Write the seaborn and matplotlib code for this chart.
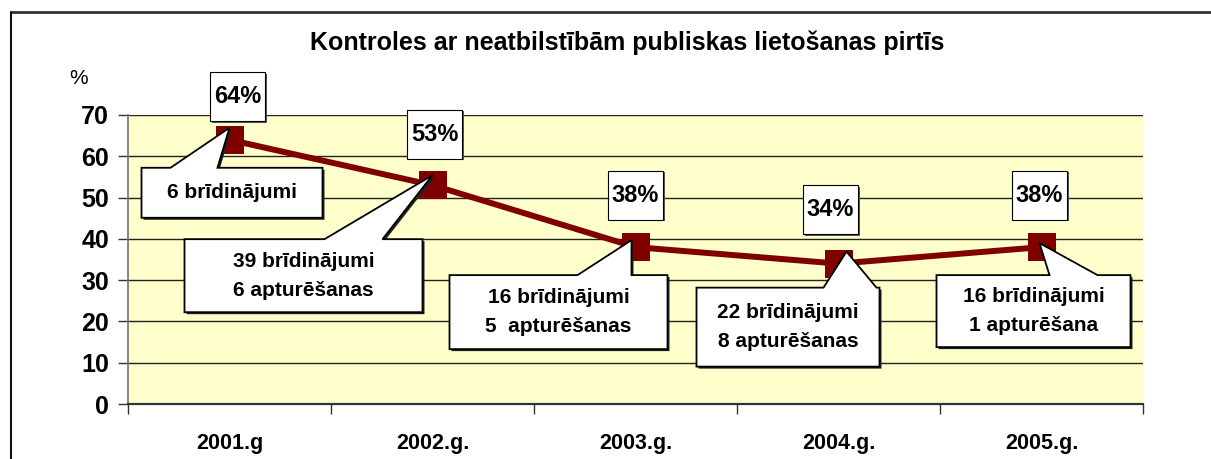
import numpy as np
import matplotlib
matplotlib.use("Agg")
import matplotlib.pyplot as plt
import matplotlib.transforms as mtransforms
from matplotlib.patches import Polygon, Rectangle
from matplotlib.lines import Line2D
import pandas as pd
import seaborn as sns

# data
years = ["2001.g", "2002.g.", "2003.g.", "2004.g.", "2005.g."]
share = [64, 53, 38, 34, 38]
pct_labels = ["64%", "53%", "38%", "34%", "38%"]
notes = [
    ["6 brīdinājumi"],
    ["39 brīdinājumi", "6 apturēšanas"],
    ["16 brīdinājumi", "5  apturēšanas"],
    ["22 brīdinājumi", "8 apturēšanas"],
    ["16 brīdinājumi", "1 apturēšana"],
]

# layout of the labels, pixel offsets from the marker (image y down)
# box: x0, x1, y0, y1 ; tip: dx, dy ; base: x0, x1 on the top edge
callouts = [
    dict(box=(-88, 93, 28, 78), tip=(0, -12), base=(-59, -12)),
    dict(box=(-248, -10, 54, 127), tip=(0, -10), base=(-108, -50)),
    dict(box=(-186, 32, 28, 102), tip=(-4, -7), base=(-58, -4)),
    dict(box=(-142, 41, 24, 103), tip=(8, -12), base=(-15, 38)),
    dict(box=(-105, 89, 28, 100), tip=(-2, -4), base=(8, 56)),
]
pct_offsets = [(8, -43), (2, -51), (0, -52), (-8, -54), (-2, -52)]

sns.set_theme(style="white")
plt.rcParams["font.family"] = ["Liberation Sans", "DejaVu Sans"]
plt.rcParams["text.color"] = "black"
plt.rcParams["xtick.labelcolor"] = "black"
plt.rcParams["ytick.labelcolor"] = "black"

W, H = 1211, 459
fig = plt.figure(figsize=(W / 100, H / 100), dpi=100)
ax = fig.add_axes([128 / W, (H - 404) / H, (1143 - 128) / W, (404 - 115) / H])
ax.set_facecolor("#FFFFCC")

df = pd.DataFrame({"year": years, "share": share})
sns.lineplot(data=df, x="year", y="share", ax=ax, color="#800000",
             linewidth=4.3, marker="s", markersize=19.5, markeredgewidth=0,
             sort=False, zorder=3)

ax.set_xlim(-0.5, len(years) - 0.5)
ax.set_ylim(0, 70)
ax.set_yticks(np.arange(0, 71, 10))
ax.set_xticks(np.arange(-0.5, len(years), 1.0))
ax.set_xticklabels([])
ax.set_xticks(np.arange(len(years)), minor=True)
ax.set_xticklabels(years, minor=True)
ax.tick_params(axis="x", which="major", direction="out", length=7, width=1,
               color="#333333", bottom=True)
ax.tick_params(axis="x", which="minor", length=0, pad=21, labelsize=15.5)
ax.tick_params(axis="y", direction="out", length=7, width=1, color="#333333",
               left=True, labelsize=18, pad=6.5)
for lab in ax.get_xticklabels(minor=True) + ax.get_yticklabels():
    lab.set_fontweight("bold")
ax.yaxis.grid(True, color="#222222", linewidth=1)
ax.set_axisbelow(True)
for s in ["top", "right"]:
    ax.spines[s].set_visible(False)
ax.spines["left"].set_color("#777777")
ax.spines["bottom"].set_color("#333333")
ax.spines["bottom"].set_linewidth(1.6)
ax.set_xlabel("")
ax.set_ylabel("")

ident = mtransforms.IdentityTransform()
for i, v in enumerate(share):
    px, py = ax.transData.transform((i, v))
    c = callouts[i]
    bx0, bx1, by0, by1 = c["box"]
    tx, ty = c["tip"]
    s0, s1 = c["base"]
    verts = [(bx0, by0), (s0, by0), (tx, ty), (s1, by0), (bx1, by0),
             (bx1, by1), (bx0, by1)]
    verts = [(px + x, py - y) for x, y in verts]
    shadow = [(x + 2, y - 2) for x, y in verts]
    ax.add_patch(Polygon(shadow, closed=True, facecolor="#222222",
                         edgecolor="none", transform=ident, clip_on=False,
                         zorder=4))
    ax.add_patch(Polygon(verts, closed=True, facecolor="white",
                         edgecolor="black", linewidth=1.3, transform=ident,
                         clip_on=False, zorder=5))
    cx = px + (bx0 + bx1) / 2
    cy = py - (by0 + by1) / 2
    ax.text(cx, cy, "\n".join(notes[i]), transform=ident, ha="center",
            va="center", fontsize=15, fontweight="bold", linespacing=1.65,
            zorder=6)

    ox, oy = pct_offsets[i]
    bw, bh = 55, 49
    ax.add_patch(Rectangle((px + ox - bw / 2 + 1.5, py - oy - bh / 2 - 1.5),
                           bw, bh, facecolor="#555555", edgecolor="none",
                           transform=ident, clip_on=False, zorder=4))
    ax.add_patch(Rectangle((px + ox - bw / 2, py - oy - bh / 2), bw, bh,
                           facecolor="white", edgecolor="black", linewidth=0.8,
                           transform=ident, clip_on=False, zorder=5))
    ax.text(px + ox, py - oy, pct_labels[i], transform=ident, ha="center",
            va="center", fontsize=17, fontweight="bold", zorder=6)

fig.text(627 / W, 1 - 43 / H, "Kontroles ar neatbilstībām publiskas lietošanas pirtīs",
         ha="center", va="center", fontsize=18, fontweight="bold")
fig.text(79 / W, 1 - 78 / H, "%", ha="center", va="center", fontsize=15)

# chart frame (top and left edges visible)
fig.add_artist(Line2D([11 / W, 1.0], [1 - 12 / H, 1 - 12 / H], color="#333333",
                      linewidth=2, transform=fig.transFigure))
fig.add_artist(Line2D([11 / W, 11 / W], [1 - 12 / H, 0], color="#111111",
                      linewidth=1.5, transform=fig.transFigure))

fig.savefig("out.png", dpi=100)
